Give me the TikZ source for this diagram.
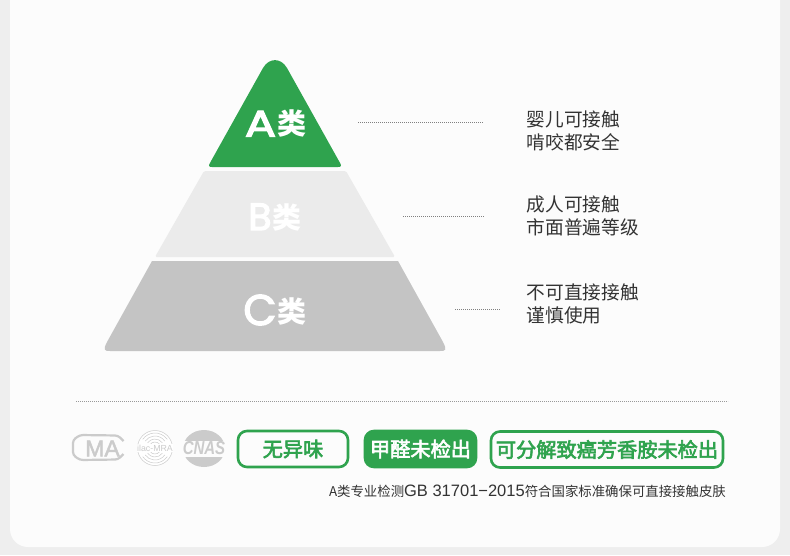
\documentclass[tikz,border=0pt]{standalone}
\usepackage{fontspec}
\setmainfont{Noto Sans CJK SC}
\newfontfamily\latinfont{Liberation Sans}
\newfontfamily\roundfont[RawFeature={embolden=3}]{Poppins}
\newfontfamily\medfont[RawFeature={embolden=3}]{Noto Sans CJK SC}
\newfontfamily\logofont[RawFeature={embolden=2}]{Liberation Sans}
\definecolor{cardgreen}{HTML}{2FA34E}
\definecolor{palegrey}{HTML}{EBEBEB}
\definecolor{midgrey}{HTML}{C4C4C4}
\definecolor{logogrey}{HTML}{CBCBCB}
\definecolor{inkgrey}{HTML}{333333}
\newcommand{\tiertext}[3]{{\roundfont\fontsize{#2}{#2}\selectfont #1}\kern1pt\raisebox{#3pt}{\bfseries\fontsize{29}{29}\selectfont 类}}
\tikzset{
  tier/.style={text=white,inner sep=0pt},
  note/.style={font=\fontsize{18.7}{23}\selectfont,text=inkgrey,align=left,anchor=west,inner sep=0pt},
  leader/.style={dash pattern=on 0.8pt off 1.2pt,line width=0.7pt,draw=black!50},
  badge/.style={draw=cardgreen,line width=2.6pt,rounded corners=9pt,text=cardgreen,
    font=\medfont\fontsize{20.2}{20.2}\selectfont,inner sep=0pt,minimum height=36pt},
}
\begin{document}
\begin{tikzpicture}[x=1pt,y=-1pt]
  \useasboundingbox (0,0) rectangle (790,555);
  \fill[black!6.5] (0,0) rectangle (790,555);
  \fill[white!99!black,rounded corners=18pt] (10,-30) rectangle (780,547);

  % pyramid
  \fill[cardgreen] (263,68) .. controls (269,57.5) and (281,57.5) .. (287,68) -- (339.5,162) .. controls (342,166) and (341,167) .. (338,167) -- (212,167) .. controls (209,167) and (208,166) .. (210.5,162) -- cycle;
  \fill[palegrey,rounded corners=1.5pt] (204,171) -- (346,171) -- (395,257) -- (155,257) -- cycle;
  \fill[midgrey] (152,261) -- (398,261) -- (443,342) .. controls (447,350) and (446,351) .. (440,351) -- (110,351) .. controls (104,351) and (103,350) .. (107,342) -- cycle;
  \node[tier] (tierA) at (275.5,123.5) {\tiertext{\scalebox{1.25}[1]{A}}{37}{2}};
  \node[tier] (tierB) at (275,217) {\tiertext{B}{38}{2}};
  \node[tier] (tierC) at (275,310) {\tiertext{C}{43}{3}};

  % notes
  \node[note] (noteA) at (526.5,131) {婴儿可接触\\啃咬都安全};
  \node[note] (noteB) at (526.5,216) {成人可接触\\市面普遍等级};
  \node[note] (noteC) at (526.5,304) {不可直接接触\\谨慎使用};
  \coordinate (startA) at (358,122);
  \coordinate (endA) at (483,122);
  \coordinate (startB) at (403,216);
  \coordinate (endB) at (484,216);
  \coordinate (startC) at (455,309);
  \coordinate (endC) at (500,309);
  \foreach \a in {A,B,C}
    \draw[leader] (start\a) to (end\a);

  % divider
  \coordinate (ruleL) at (76,401);
  \coordinate (ruleR) at (728,401);
  \draw[leader,draw=black!40] (ruleL) to (ruleR);

  % logos
  \draw[logogrey,line width=2.2pt,rounded corners=3pt] (123.5,441) -- (118,435.5) -- (80,435) -- (73,440) -- (73,455) -- (80,460) -- (118,459.5) -- (123.5,454);
  \node[text=logogrey,font=\logofont\fontsize{23}{23}\selectfont,inner sep=0pt] (cma) at (102.5,448.5) {MA};
  \draw[logogrey,fill=white,line width=0.5pt] (155,448) circle[radius=17.5];
  \foreach \r in {6,9,12,15} {
    \draw[logogrey,line width=0.5pt] (155,448) ++(35:\r) arc[start angle=35,end angle=145,radius=\r];
    \draw[logogrey,line width=0.5pt] (155,448) ++(-35:\r) arc[start angle=-35,end angle=-145,radius=\r];
  }
  \node[text=logogrey,fill=white,inner sep=0.5pt,font=\latinfont\fontsize{8.8}{8.8}\selectfont] (ilac) at (155,448) {ilac-MRA};
  \fill[logogrey] (204,448.5) ellipse[x radius=21,y radius=18.5];
  \fill[white!99!black] (182,440.5) rectangle (228,456.5);
  \node[text=logogrey,font=\latinfont\bfseries\itshape\fontsize{15}{15}\selectfont,inner sep=0pt] (cnas) at (204,448.5) {\scalebox{1}[1.25]{CNAS}};

  % badges
  \node[badge,minimum width=110pt] (odor) at (293,449) {无异味};
  \node[badge,minimum width=111pt,fill=cardgreen,text=white] (formal) at (420.5,449) {甲醛未检出};
  \node[badge,minimum width=232pt] (amine) at (607,449.5) {可分解致癌芳香胺未检出};

  % footnote
  \node[anchor=east,inner sep=0pt,text=inkgrey,font=\fontsize{13.4}{14}\selectfont] (foot) at (726,491) {A类专业检测{\latinfont\fontsize{16.5}{16.5}\selectfont GB 31701−2015}符合国家标准确保可直接接触皮肤};
\end{tikzpicture}
\end{document}
